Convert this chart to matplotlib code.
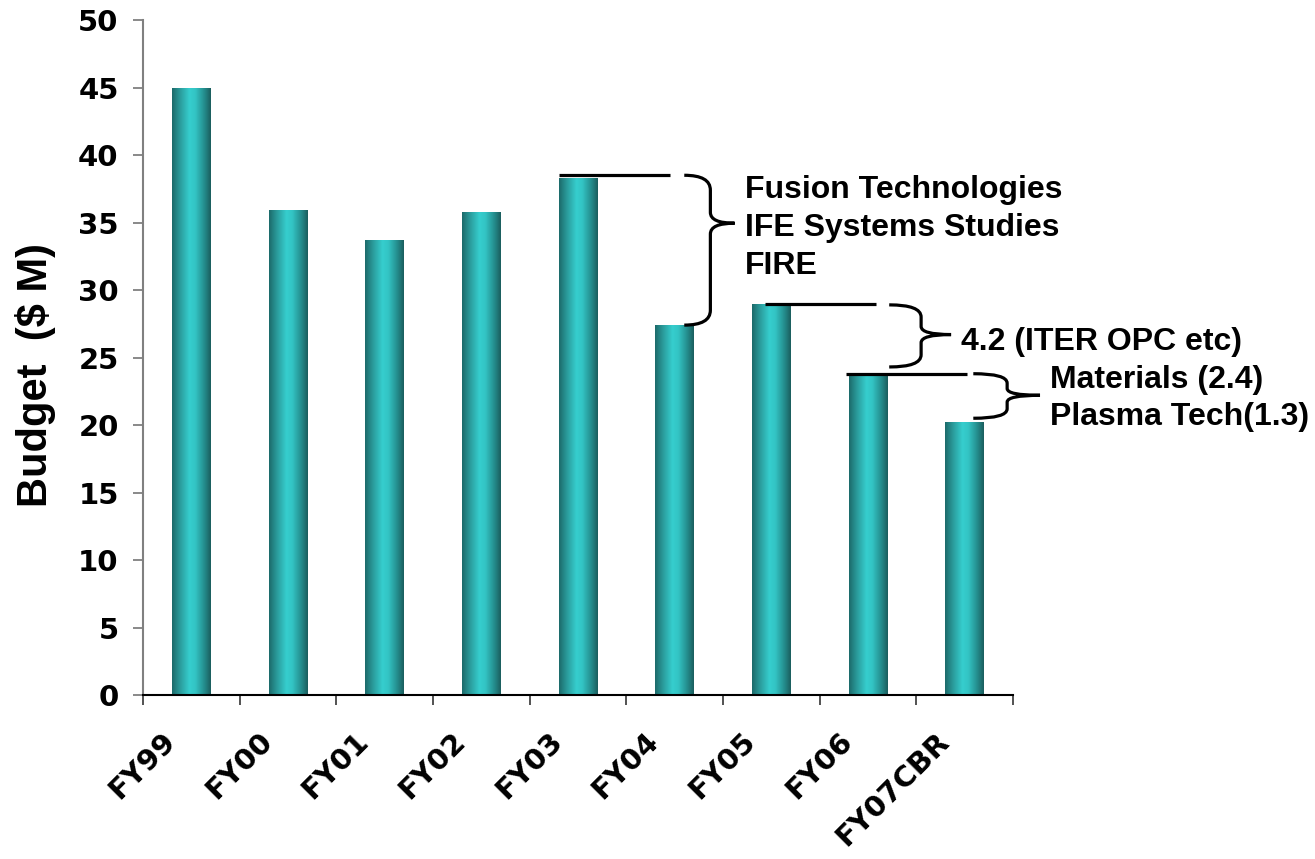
import numpy as np
import matplotlib
matplotlib.use('Agg')
import matplotlib.pyplot as plt
from matplotlib.colors import LinearSegmentedColormap
from matplotlib.path import Path
from matplotlib.patches import PathPatch
from matplotlib.transforms import ScaledTranslation

# Fusion technology budget by fiscal year ($M)
years = ['FY99', 'FY00', 'FY01', 'FY02', 'FY03', 'FY04', 'FY05', 'FY06', 'FY07CBR']
budget = [45.0, 35.9, 33.7, 35.8, 38.3, 27.4, 29.0, 23.7, 20.2]

note_cuts = ['Fusion Technologies', 'IFE Systems Studies', 'FIRE']
note_iter = '4.2 (ITER OPC etc)'
note_mat = ['Materials (2.4)', 'Plasma Tech(1.3)']

# cylinder-style shading across each bar
shade = LinearSegmentedColormap.from_list('cyl', [
    (0.0, '#1c6a6a'), (0.2, '#2a9a9a'), (0.45, '#36cece'),
    (0.6, '#33c4c4'), (0.85, '#238888'), (1.0, '#1b5d5d')])

fig = plt.figure(figsize=(13.15, 8.59), dpi=100)
ax = fig.add_axes([0.1087, 0.1909, 0.6616, 0.7858])

x = np.arange(len(years))
width = 0.4
bars = ax.bar(x, budget, width=width, color='none', edgecolor='none')
grad = np.linspace(0, 1, 256).reshape(1, -1)
for b in bars:
    x0, w, h = b.get_x(), b.get_width(), b.get_height()
    im = ax.imshow(grad, extent=[x0, x0 + w, 0, h], aspect='auto',
                   cmap=shade, zorder=2, interpolation='bilinear')
    im.set_clip_path(b)

ax.set_xlim(-0.5, len(years) - 0.5)
ax.set_ylim(0, 50)
ax.set_yticks(np.arange(0, 51, 5))

# ticks on category boundaries, labels at category centres
ax.set_xticks(np.arange(-0.5, len(years), 1))
ax.set_xticklabels([])
ax.set_xticks(x, minor=True)
ax.set_xticklabels(years, minor=True, rotation=45, ha='right', va='center',
                   rotation_mode='anchor', fontsize=21, fontweight='bold',
                   family='DejaVu Sans')
ax.tick_params(axis='x', which='major', direction='out', length=7.5,
               width=1.3, color='#444444')
ax.tick_params(axis='x', which='minor', length=0, pad=30)
shift = ScaledTranslation(-20 / 100, 0, fig.dpi_scale_trans)
for lab in ax.get_xticklabels(minor=True):
    lab.set_transform(lab.get_transform() + shift)

ax.tick_params(axis='y', direction='out', length=7.5, width=1.3,
               color='#808080', pad=10)
for lab in ax.get_yticklabels():
    lab.set_fontsize(21)
    lab.set_fontweight('bold')
    lab.set_family('DejaVu Sans')

for s in ['top', 'right']:
    ax.spines[s].set_visible(False)
ax.spines['left'].set_color('#808080')
ax.spines['left'].set_linewidth(1.5)
ax.spines['bottom'].set_color('black')
ax.spines['bottom'].set_linewidth(1.5)

fig.text(36 / 1315, 1 - 375 / 859, 'Budget  ($ M)', rotation=90,
         ha='center', va='center', fontsize=30, fontweight='bold',
         family='Liberation Sans')


def brace(ax, x_end, x_spine, x_tip, y_top, y_tip, y_bot, r, r_tip):
    verts = [(x_end, y_top), (x_spine, y_top), (x_spine, y_top - r),
             (x_spine, y_tip + r_tip), (x_spine, y_tip), (x_tip, y_tip),
             (x_spine, y_tip), (x_spine, y_tip - r_tip),
             (x_spine, y_bot + r), (x_spine, y_bot), (x_end, y_bot)]
    codes = [Path.MOVETO, Path.CURVE3, Path.CURVE3, Path.LINETO,
             Path.CURVE3, Path.CURVE3, Path.CURVE3, Path.CURVE3,
             Path.LINETO, Path.CURVE3, Path.CURVE3]
    ax.add_patch(PathPatch(Path(verts, codes), facecolor='none',
                           edgecolor='black', lw=2.3, clip_on=False,
                           zorder=3, capstyle='butt'))


line_kw = dict(color='black', lw=2.3, clip_on=False, zorder=3,
               solid_capstyle='butt')
txt_kw = dict(fontsize=23, fontweight='bold', family='Liberation Sans',
              ha='left', va='baseline', clip_on=False)

# FY03 -> FY04 drop
top = budget[4] + 0.2
ax.plot([x[4] - width / 2, 4.95], [top, top], **line_kw)
brace(ax, 5.10, 5.37, 5.62, top, top - 0.32 * (top - budget[5]),
      budget[5], 1.1, 0.8)
for i, t in enumerate(note_cuts):
    ax.text(5.73, 36.8 - 2.8 * i, t, **txt_kw)

# FY05 -> FY06 drop
top = budget[6]
ax.plot([5.93, 7.08], [top, top], **line_kw)
brace(ax, 7.22, 7.55, 7.86, top - 0.1, 26.7, budget[7] + 0.6, 0.9, 0.6)
ax.text(7.96, 25.55, note_iter, **txt_kw)

# FY06 -> FY07 drop
top = budget[7] + 0.1
ax.plot([x[7] - width / 2 - 0.03, 8.02], [top, top], **line_kw)
brace(ax, 8.09, 8.44, 8.78, top, 22.2, budget[8] + 0.3, 0.7, 0.5)
for i, t in enumerate(note_mat):
    ax.text(8.88, 22.74 - 2.74 * i, t, **txt_kw)

fig.savefig('out.png', dpi=100)
